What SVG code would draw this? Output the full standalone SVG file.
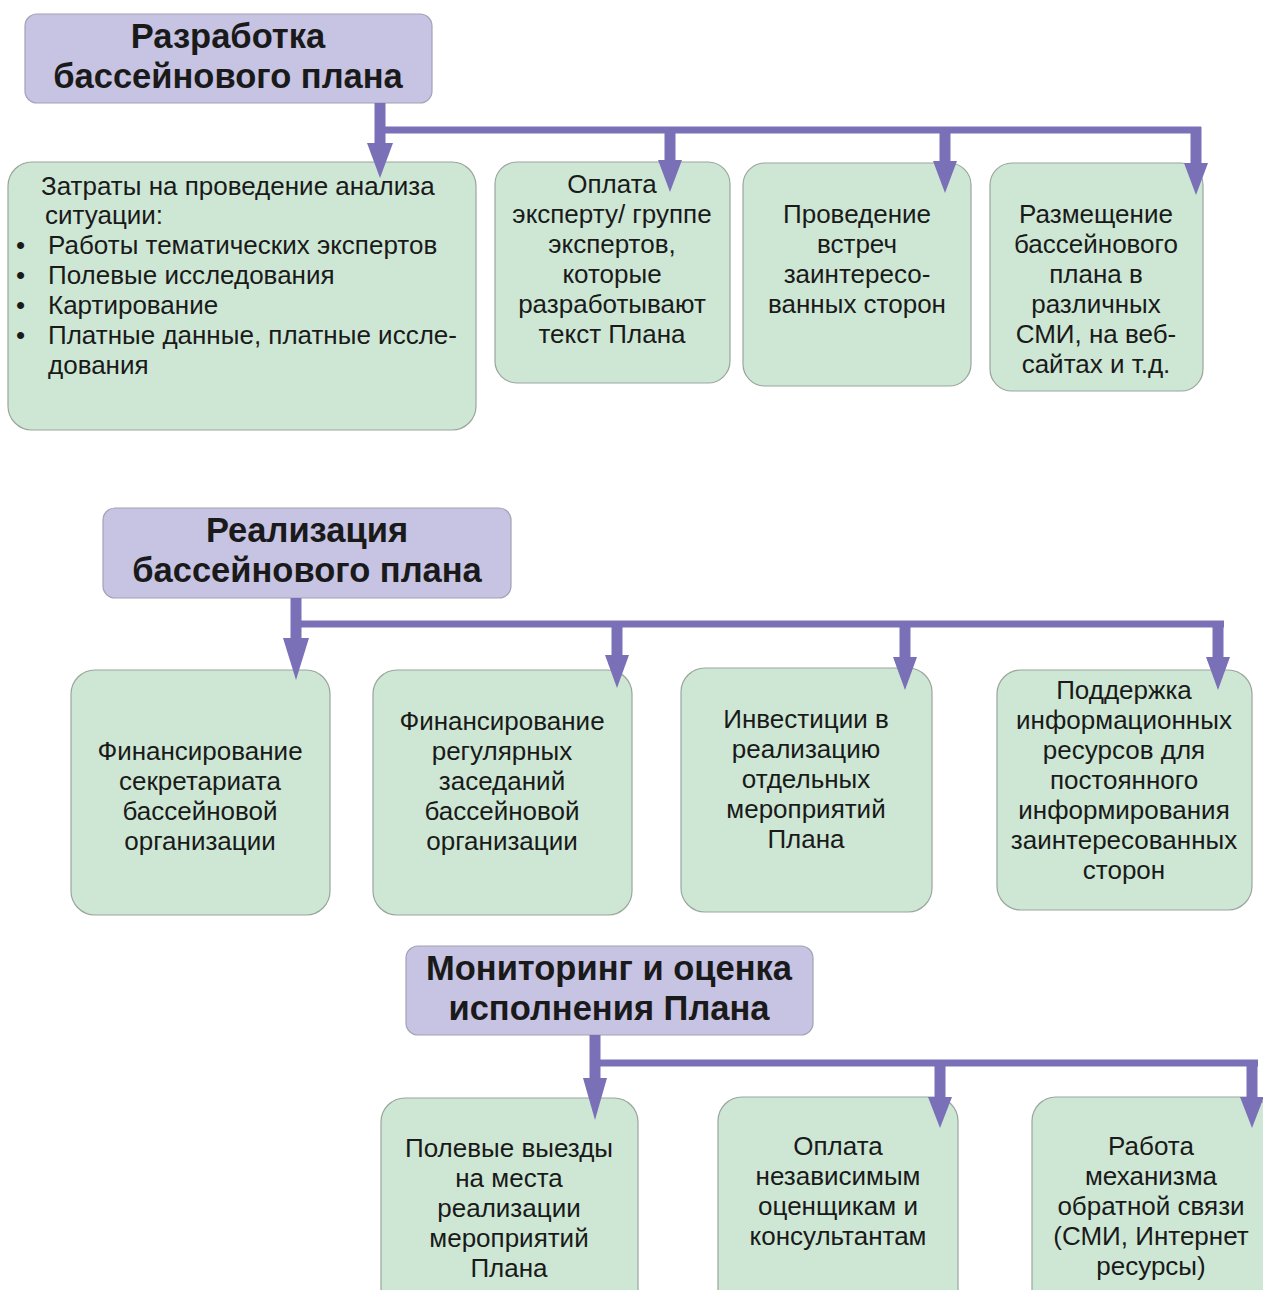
<svg xmlns="http://www.w3.org/2000/svg" width="1263" height="1290" viewBox="0 0 1263 1290">
<style>
.title rect{fill:#c6c3e3;stroke:#a3a1b5;stroke-width:1.2}
.box rect{fill:#cde7d4;stroke:#9aa59d;stroke-width:1.2}
text{font-family:"Liberation Sans",Arial,sans-serif;fill:#1a1a1a}
.title text{font-size:34.5px;font-weight:bold;text-anchor:middle}
.box text{font-size:26px;text-anchor:middle}
.box text.l{text-anchor:start}
.conn path{fill:none;stroke:#7a70b7;stroke-linecap:butt}
.conn .v{stroke-width:11}
.conn .h{stroke-width:7}
.conn polygon{fill:#7a70b7}
</style>
<rect width="1263" height="1290" fill="#ffffff"/>

<!-- Section 1 -->
<g id="t1" class="title">
<rect x="25" y="14" width="407" height="89" rx="12"/>
<text x="228" y="48">Разработка</text>
<text x="228" y="88">бассейнового плана</text>
</g>
<g id="n1a" class="box">
<rect x="8" y="162" width="468" height="268" rx="24"/>
<text class="l" x="41" y="195">Затраты на проведение анализа</text>
<text class="l" x="45" y="224">ситуации:</text>
<text class="l" x="16" y="254">•</text>
<text class="l" x="48" y="254">Работы тематических экспертов</text>
<text class="l" x="16" y="284">•</text>
<text class="l" x="48" y="284">Полевые исследования</text>
<text class="l" x="16" y="314">•</text>
<text class="l" x="48" y="314">Картирование</text>
<text class="l" x="16" y="344">•</text>
<text class="l" x="48" y="344">Платные данные, платные иссле-</text>
<text class="l" x="48" y="374">дования</text>
</g>
<g id="n1b" class="box">
<rect x="495" y="162" width="235" height="221" rx="22"/>
<text x="612" y="193">Оплата</text>
<text x="612" y="223">эксперту/ группе</text>
<text x="612" y="253">экспертов,</text>
<text x="612" y="283">которые</text>
<text x="612" y="313">разработывают</text>
<text x="612" y="343">текст Плана</text>
</g>
<g id="n1c" class="box">
<rect x="743" y="163" width="228" height="223" rx="22"/>
<text x="857" y="223">Проведение</text>
<text x="857" y="253">встреч</text>
<text x="857" y="283">заинтересо-</text>
<text x="857" y="313">ванных сторон</text>
</g>
<g id="n1d" class="box">
<rect x="990" y="163" width="213" height="228" rx="22"/>
<text x="1096" y="223">Размещение</text>
<text x="1096" y="253">бассейнового</text>
<text x="1096" y="283">плана в</text>
<text x="1096" y="313">различных</text>
<text x="1096" y="343">СМИ, на веб-</text>
<text x="1096" y="373">сайтах и т.д.</text>
</g>

<!-- Section 2 -->
<g id="t2" class="title">
<rect x="103" y="508" width="408" height="90" rx="12"/>
<text x="307" y="542">Реализация</text>
<text x="307" y="582">бассейнового плана</text>
</g>
<g id="n2a" class="box">
<rect x="71" y="670" width="259" height="245" rx="24"/>
<text x="200" y="760">Финансирование</text>
<text x="200" y="790">секретариата</text>
<text x="200" y="820">бассейновой</text>
<text x="200" y="850">организации</text>
</g>
<g id="n2b" class="box">
<rect x="373" y="670" width="259" height="245" rx="24"/>
<text x="502" y="730">Финансирование</text>
<text x="502" y="760">регулярных</text>
<text x="502" y="790">заседаний</text>
<text x="502" y="820">бассейновой</text>
<text x="502" y="850">организации</text>
</g>
<g id="n2c" class="box">
<rect x="681" y="668" width="251" height="244" rx="24"/>
<text x="806" y="728">Инвестиции в</text>
<text x="806" y="758">реализацию</text>
<text x="806" y="788">отдельных</text>
<text x="806" y="818">мероприятий</text>
<text x="806" y="848">Плана</text>
</g>
<g id="n2d" class="box">
<rect x="997" y="670" width="255" height="240" rx="24"/>
<text x="1124" y="699">Поддержка</text>
<text x="1124" y="729">информационных</text>
<text x="1124" y="759">ресурсов для</text>
<text x="1124" y="789">постоянного</text>
<text x="1124" y="819">информирования</text>
<text x="1124" y="849">заинтересованных</text>
<text x="1124" y="879">сторон</text>
</g>

<!-- Section 3 -->
<g id="t3" class="title">
<rect x="406" y="946" width="407" height="89" rx="12"/>
<text x="609" y="980">Мониторинг и оценка</text>
<text x="609" y="1020">исполнения Плана</text>
</g>
<g id="n3a" class="box">
<rect x="381" y="1098" width="257" height="230" rx="24"/>
<text x="509" y="1157">Полевые выезды</text>
<text x="509" y="1187">на места</text>
<text x="509" y="1217">реализации</text>
<text x="509" y="1247">мероприятий</text>
<text x="509" y="1277">Плана</text>
</g>
<g id="n3b" class="box">
<rect x="718" y="1097" width="240" height="230" rx="24"/>
<text x="838" y="1155">Оплата</text>
<text x="838" y="1185">независимым</text>
<text x="838" y="1215">оценщикам и</text>
<text x="838" y="1245">консультантам</text>
</g>
<g id="n3c" class="box">
<rect x="1032" y="1097" width="240" height="230" rx="24"/>
<text x="1151" y="1155">Работа</text>
<text x="1151" y="1185">механизма</text>
<text x="1151" y="1215">обратной связи</text>
<text x="1151" y="1245">(СМИ, Интернет</text>
<text x="1151" y="1275">ресурсы)</text>
</g>

<!-- Connectors -->
<g id="connectors" class="conn">
<path class="v" d="M380 103V145"/>
<path class="h" d="M380 130H1201"/>
<path class="v" d="M670 127V162M945 127V163M1196 127V165"/>
<polygon points="367,143 393,143 380,178"/>
<polygon points="658,160 682,160 670,192"/>
<polygon points="933,161 957,161 945,193"/>
<polygon points="1184,163 1208,163 1196,195"/>

<path class="v" d="M296 598V640"/>
<path class="h" d="M296 624H1224"/>
<path class="v" d="M617 621V656M905 621V658M1218 621V658"/>
<polygon points="283,638 309,638 296,680"/>
<polygon points="605,655 629,655 617,688"/>
<polygon points="893,657 917,657 905,690"/>
<polygon points="1206,657 1230,657 1218,690"/>

<path class="v" d="M595 1035V1080"/>
<path class="h" d="M595 1063H1258"/>
<path class="v" d="M940 1060V1098M1252 1060V1098"/>
<polygon points="583,1078 607,1078 595,1120"/>
<polygon points="928,1097 952,1097 940,1128"/>
<polygon points="1240,1097 1264,1097 1252,1128"/>
</g>
</svg>
